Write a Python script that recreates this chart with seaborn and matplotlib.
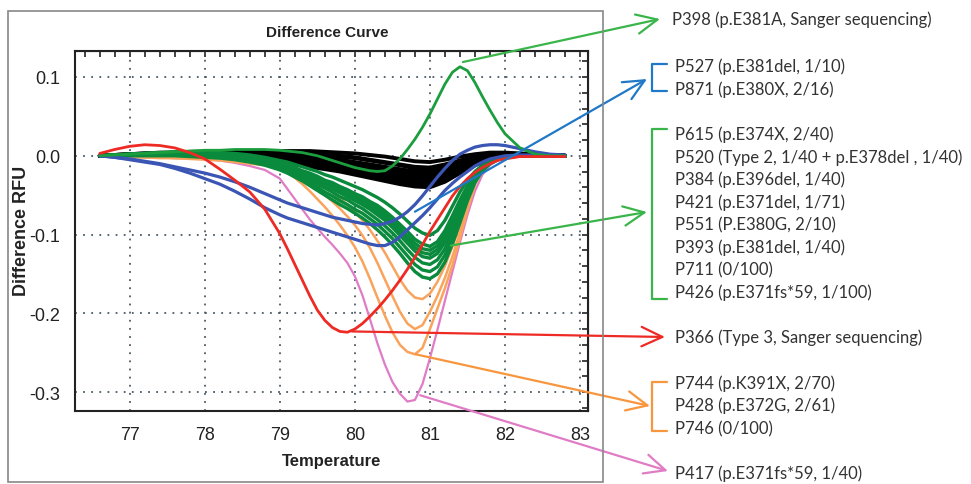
import numpy as np
import pandas as pd
import seaborn as sns
from matplotlib import pyplot as plt
from matplotlib.lines import Line2D
from matplotlib.patches import Rectangle
from matplotlib.ticker import MultipleLocator, NullFormatter, FuncFormatter

# coarse temperature grid (black bundle) and fine grid (the coloured curves)
temps = [76.6, 76.8, 77.0, 77.2, 77.4, 77.6, 77.8, 78.0, 78.2, 78.4, 78.6, 78.8,
         79.0, 79.2, 79.4, 79.6, 79.8, 80.0, 80.2, 80.4, 80.6, 80.8, 81.0, 81.2,
         81.4, 81.6, 81.8, 82.0, 82.2, 82.4, 82.6, 82.8]
temps_fine = [76.6, 76.8, 77.0, 77.2, 77.4, 77.6, 77.8, 78.0, 78.2, 78.4, 78.6, 78.8, 79.0,
              79.1, 79.2, 79.3, 79.4, 79.5, 79.6, 79.7, 79.8, 79.9, 80.0,
              80.1, 80.2, 80.3, 80.4, 80.5, 80.6, 80.7, 80.8, 80.9, 81.0,
              81.1, 81.2, 81.3, 81.4, 81.5, 81.6, 81.7, 81.8, 81.9, 82.0,
              82.2, 82.4, 82.6, 82.8]

black_curves = [
    [0, .001, .002, .003, .004, .004, .005, .005, .006, .006, .006, .006, .006, .006, .006, .005,
     .004, .003, .001, -.001, -.004, -.007, -.008, -.005, -.001, .002, .004, .004, .003, .002, .001, 0],
    [0, .001, .002, .002, .003, .004, .004, .004, .005, .005, .005, .004, .004, .003, .002, .001,
     -.001, -.003, -.006, -.009, -.012, -.016, -.018, -.014, -.008, -.002, .002, .003, .002, .001, 0, 0],
    [0, .001, .002, .003, .003, .004, .004, .005, .005, .005, .005, .005, .004, .004, .003, .002,
     0, -.002, -.005, -.008, -.011, -.014, -.015, -.011, -.006, -.001, .002, .003, .002, .001, .001, 0],
    [0, .001, .001, .002, .003, .003, .004, .004, .004, .004, .004, .003, .002, .001, -.001, -.003,
     -.005, -.008, -.011, -.014, -.017, -.020, -.021, -.016, -.009, -.003, .001, .002, .002, .001, 0, 0],
    [0, .001, .001, .002, .002, .003, .003, .003, .003, .003, .003, .002, .001, -.001, -.003, -.005,
     -.007, -.010, -.013, -.016, -.020, -.022, -.023, -.018, -.011, -.004, 0, .002, .001, .001, 0, 0],
    [0, .001, .001, .002, .002, .003, .003, .003, .003, .003, .002, .001, 0, -.002, -.004, -.006,
     -.009, -.012, -.015, -.018, -.022, -.025, -.026, -.020, -.012, -.005, -.001, .001, .001, .001, 0, 0],
    [0, 0, .001, .001, .002, .002, .002, .002, .002, .001, 0, -.001, -.003, -.005, -.007, -.010,
     -.013, -.016, -.019, -.022, -.026, -.029, -.030, -.024, -.015, -.007, -.002, 0, .001, 0, 0, 0],
    [0, 0, .001, .001, .001, .001, .001, .001, 0, -.001, -.002, -.003, -.005, -.007, -.010, -.013,
     -.016, -.019, -.022, -.026, -.029, -.032, -.033, -.027, -.018, -.009, -.003, -.001, 0, 0, 0, 0],
    [0, 0, 0, 0, 0, 0, 0, -.001, -.001, -.002, -.003, -.005, -.007, -.009, -.012, -.015,
     -.018, -.021, -.025, -.029, -.033, -.036, -.036, -.030, -.020, -.010, -.004, -.001, 0, 0, 0, 0],
    [0, 0, 0, 0, 0, -.001, -.001, -.002, -.002, -.003, -.004, -.006, -.008, -.011, -.014, -.017,
     -.020, -.024, -.028, -.032, -.036, -.039, -.040, -.033, -.022, -.012, -.005, -.001, 0, 0, 0, 0],
]

green_curves = [
    [0, .001, .002, .003, .004, .005, .005, .005, .004, .003, .001, -.002, -.006,
     -.008, -.011, -.014, -.017, -.020, -.024, -.027, -.031, -.035, -.039,
     -.043, -.048, -.053, -.059, -.066, -.074, -.083, -.092, -.098, -.101,
     -.095, -.082, -.064, -.046, -.031, -.020, -.012, -.007, -.004, -.002, 0, 0, 0, 0],
    [0, .001, .002, .003, .004, .004, .004, .004, .003, .002, 0, -.003, -.008,
     -.012, -.015, -.019, -.022, -.026, -.031, -.034, -.039, -.043, -.048,
     -.052, -.058, -.063, -.070, -.078, -.087, -.096, -.106, -.112, -.115,
     -.109, -.095, -.076, -.056, -.038, -.024, -.014, -.008, -.004, -.002, 0, 0, 0, 0],
    [0, .001, .002, .002, .003, .003, .003, .003, .002, .001, -.001, -.004, -.010,
     -.013, -.017, -.020, -.024, -.028, -.033, -.037, -.042, -.046, -.051,
     -.056, -.061, -.067, -.074, -.083, -.092, -.102, -.111, -.118, -.120,
     -.114, -.101, -.081, -.060, -.040, -.025, -.015, -.008, -.004, -.002, 0, 0, 0, 0],
    [0, .001, .001, .002, .002, .002, .002, .002, .001, 0, -.002, -.005, -.011,
     -.014, -.018, -.022, -.026, -.031, -.035, -.040, -.045, -.049, -.054,
     -.059, -.065, -.071, -.078, -.087, -.096, -.106, -.116, -.123, -.125,
     -.119, -.105, -.085, -.063, -.042, -.026, -.015, -.008, -.004, -.002, 0, 0, 0, 0],
    [0, .001, .001, .002, .002, .002, .002, .001, 0, -.001, -.003, -.007, -.013,
     -.015, -.020, -.024, -.028, -.033, -.038, -.042, -.047, -.052, -.057,
     -.062, -.068, -.075, -.082, -.091, -.101, -.111, -.121, -.128, -.130,
     -.124, -.110, -.089, -.067, -.045, -.027, -.016, -.009, -.005, -.002, 0, 0, 0, 0],
    [0, 0, .001, .001, .001, .001, .001, 0, -.001, -.002, -.004, -.008, -.014,
     -.017, -.022, -.026, -.031, -.036, -.041, -.046, -.052, -.056, -.062,
     -.067, -.074, -.081, -.089, -.098, -.108, -.119, -.129, -.136, -.138,
     -.132, -.118, -.096, -.072, -.048, -.029, -.017, -.009, -.005, -.002, 0, 0, 0, 0],
    [0, 0, .001, .001, .001, .001, 0, -.001, -.002, -.003, -.006, -.010, -.016,
     -.020, -.024, -.029, -.035, -.040, -.046, -.051, -.057, -.062, -.068,
     -.073, -.080, -.087, -.096, -.105, -.116, -.127, -.138, -.145, -.147,
     -.141, -.126, -.104, -.079, -.053, -.032, -.018, -.010, -.005, -.002, 0, 0, 0, 0],
    [0, 0, 0, 0, 0, 0, -.001, -.002, -.003, -.005, -.008, -.012, -.018,
     -.022, -.027, -.032, -.038, -.044, -.050, -.056, -.062, -.067, -.073,
     -.079, -.086, -.094, -.103, -.113, -.124, -.136, -.147, -.154, -.156,
     -.150, -.135, -.112, -.085, -.057, -.034, -.019, -.010, -.005, -.002, 0, 0, 0, 0],
]

p398_curve = [0, .001, .002, .003, .004, .005, .006, .007, .007, .008, .008, .008, .007,
              .006, .005, .004, .002, 0, -.003, -.006, -.009, -.012, -.015,
              -.017, -.019, -.020, -.019, -.013, -.004, .008, .021, .036, .053,
              .072, .091, .106, .113, .108, .093, .075, .058, .042, .028,
              .010, .002, 0, 0]

blue_curves = [
    [0, -.002, -.004, -.007, -.010, -.014, -.018, -.022, -.027, -.033, -.040, -.048, -.056,
     -.060, -.063, -.066, -.069, -.072, -.075, -.078, -.080, -.082, -.084,
     -.086, -.087, -.088, -.086, -.083, -.078, -.071, -.062, -.051, -.039,
     -.027, -.016, -.006, .002, .007, .011, .013, .014, .014, .013,
     .009, .005, .002, .001],
    [0, -.002, -.005, -.008, -.011, -.016, -.022, -.029, -.036, -.045, -.055, -.066, -.075,
     -.079, -.082, -.085, -.088, -.091, -.094, -.097, -.100, -.103, -.106,
     -.109, -.112, -.114, -.114, -.110, -.103, -.094, -.085, -.076, -.066,
     -.055, -.044, -.035, -.027, -.020, -.013, -.008, -.004, -.002, 0,
     .001, .001, 0, 0],
]

orange_curves = [
    [0, -.001, -.001, -.001, -.002, -.002, -.002, -.003, -.003, -.004, -.005, -.006, -.008,
     -.011, -.015, -.020, -.026, -.032, -.039, -.046, -.054, -.062, -.071,
     -.082, -.094, -.108, -.123, -.140, -.157, -.171, -.180, -.182, -.175,
     -.160, -.140, -.115, -.088, -.060, -.034, -.017, -.008, -.004, -.002,
     0, 0, 0, 0],
    [0, -.001, -.001, -.002, -.002, -.003, -.003, -.004, -.005, -.006, -.007, -.008, -.010,
     -.015, -.020, -.027, -.034, -.042, -.050, -.058, -.067, -.077, -.088,
     -.101, -.117, -.136, -.157, -.178, -.198, -.213, -.220, -.215, -.198,
     -.178, -.155, -.128, -.097, -.064, -.035, -.017, -.008, -.004, -.002,
     0, 0, 0, 0],
    [0, -.001, -.002, -.002, -.003, -.003, -.004, -.005, -.006, -.008, -.010, -.012, -.016,
     -.021, -.028, -.036, -.045, -.055, -.065, -.076, -.088, -.101, -.116,
     -.134, -.156, -.180, -.203, -.224, -.240, -.249, -.252, -.244, -.220,
     -.194, -.168, -.139, -.105, -.069, -.037, -.018, -.008, -.004, -.002,
     0, 0, 0, 0],
]

pink_curve = [0, -.001, -.001, -.002, -.002, -.003, -.003, -.004, -.006, -.009, -.013, -.018, -.029,
              -.042, -.055, -.068, -.081, -.092, -.103, -.113, -.124, -.136, -.153,
              -.177, -.207, -.238, -.265, -.287, -.302, -.312, -.310, -.290, -.257,
              -.221, -.184, -.147, -.110, -.075, -.045, -.024, -.012, -.006, -.003,
              -.001, 0, 0, 0]

red_curve = [.003, .008, .012, .014, .013, .010, .004, -.004, -.017, -.031, -.046, -.068, -.099,
             -.118, -.138, -.158, -.178, -.196, -.209, -.218, -.223, -.224, -.220,
             -.213, -.204, -.194, -.183, -.171, -.158, -.144, -.129, -.113, -.096,
             -.081, -.066, -.051, -.039, -.029, -.021, -.015, -.010, -.006, -.004,
             -.001, -.001, -.001, -.001]

# right-hand labels
p398_label = 'P398 (p.E381A, Sanger sequencing)'
blue_labels = ['P527 (p.E381del, 1/10)', 'P871 (p.E380X, 2/16)']
green_labels = ['P615 (p.E374X, 2/40)', 'P520 (Type 2, 1/40 + p.E378del , 1/40)',
                'P384 (p.E396del, 1/40)', 'P421 (p.E371del, 1/71)', 'P551 (P.E380G, 2/10)',
                'P393 (p.E381del, 1/40)', 'P711 (0/100)', 'P426 (p.E371fs*59, 1/100)']
red_label = 'P366 (Type 3, Sanger sequencing)'
orange_labels = ['P744 (p.K391X, 2/70)', 'P428 (p.E372G, 2/61)', 'P746 (0/100)']
pink_label = 'P417 (p.E371fs*59, 1/40)'

W, H = 971, 485


def fpx(x, y):
    return x / W, 1 - y / H


def draw_group(ax, xs, curves, color, lw):
    rows = []
    for i, c in enumerate(curves):
        assert len(c) == len(xs), (len(c), len(xs))
        for t, v in zip(xs, c):
            rows.append((i, t, v))
    df = pd.DataFrame(rows, columns=['curve', 'temp', 'rfu'])
    sns.lineplot(data=df, x='temp', y='rfu', units='curve', estimator=None,
                 color=color, lw=lw, ax=ax, legend=False, sort=False)


def arrow(ax, start, tip, color):
    ax.annotate('', xy=fpx(*tip), xycoords='figure fraction', xytext=start, textcoords='data',
                arrowprops=dict(arrowstyle='->,head_length=0.75,head_width=0.35', color=color,
                                lw=1.6, mutation_scale=20, shrinkA=0, shrinkB=0),
                annotation_clip=False, zorder=10)


def bracket(fig, x0, x1, ytop, ybot, color):
    xs = [x1 / W, x0 / W, x0 / W, x1 / W]
    ys = [1 - ytop / H, 1 - ytop / H, 1 - ybot / H, 1 - ybot / H]
    fig.add_artist(Line2D(xs, ys, transform=fig.transFigure, color=color, lw=1.6))


sns.set_style('white')
plt.rcParams['font.family'] = ['Liberation Sans Narrow', 'Liberation Sans', 'DejaVu Sans']
plt.rcParams['axes.unicode_minus'] = False

fig = plt.figure(figsize=(W / 100, H / 100), dpi=100)
ax = fig.add_axes([75 / W, 1 - 412 / H, (587.5 - 75) / W, (412 - 52) / H])

draw_group(ax, temps, black_curves, '#000000', 2.8)
draw_group(ax, temps_fine, [pink_curve], '#e07cc6', 1.6)
draw_group(ax, temps_fine, orange_curves, '#f9a35c', 1.8)
draw_group(ax, temps_fine, green_curves, '#0a8a3c', 2.4)
draw_group(ax, temps_fine, blue_curves, '#3a55b4', 2.3)
draw_group(ax, temps_fine, [p398_curve], '#1c9e3e', 2.0)
draw_group(ax, temps_fine, [red_curve], '#ee2a24', 2.0)

ax.set_xlim(76.27, 83.1)
ax.set_ylim(-0.324, 0.133)
ax.xaxis.set_major_locator(MultipleLocator(1))
ax.xaxis.set_minor_locator(MultipleLocator(0.2))
ax.yaxis.set_major_locator(MultipleLocator(0.1))
ax.yaxis.set_minor_locator(MultipleLocator(0.02))
ax.yaxis.set_major_formatter(FuncFormatter(lambda v, p: f'{v:.1f}'.replace('-0.0', '0.0')))
ax.xaxis.set_major_formatter(FuncFormatter(lambda v, p: f'{v:.0f}'))
ax.set_xlabel('')
ax.set_ylabel('')
ax.grid(True, which='major', ls=(0, (1, 3.5)), lw=1.3, color='#4a5a66')
ax.tick_params(which='major', direction='inout', length=9, width=1.5, color='#222222',
               labelsize=13, pad=6, labelcolor='#222222')
ax.tick_params(which='minor', direction='inout', length=5, width=1.2, color='#222222')
for s in ax.spines.values():
    s.set_color('#222222')
    s.set_linewidth(1.5)

secx = ax.secondary_xaxis('top')
secx.xaxis.set_major_locator(MultipleLocator(1))
secx.xaxis.set_minor_locator(MultipleLocator(0.2))
secx.xaxis.set_major_formatter(NullFormatter())
secx.tick_params(which='both', direction='in', length=4, width=1.2, color='#222222')
secy = ax.secondary_yaxis('right')
secy.yaxis.set_major_locator(MultipleLocator(0.1))
secy.yaxis.set_minor_locator(MultipleLocator(0.02))
secy.yaxis.set_major_formatter(NullFormatter())
secy.tick_params(which='both', direction='in', length=4, width=1.2, color='#222222')

# panel frame and texts
fig.add_artist(Rectangle(fpx(8, 483), (603 - 8) / W, (483 - 12) / H, transform=fig.transFigure,
                         fill=False, ec='#888888', lw=1.2))
fig.text(*fpx(327, 33), 'Difference Curve', ha='center', va='center', fontsize=11,
         fontweight='bold', color='#222222')
fig.text(*fpx(332, 462), 'Temperature', ha='center', va='center', fontsize=12,
         fontweight='bold', color='#222222')
fig.text(*fpx(21, 231), 'Difference RFU', ha='center', va='center', rotation=90,
         fontsize=13, fontweight='bold', color='#222222',
         family=['Liberation Sans', 'DejaVu Sans'])

# arrows from curves to labels
arrow(ax, (81.44, 0.119), (660, 20), '#3ab54a')
arrow(ax, (80.80, -0.071), (647, 80), '#1f78c8')
arrow(ax, (81.28, -0.114), (647, 213), '#3ab54a')
arrow(ax, (79.96, -0.223), (665, 338), '#ee2a24')
arrow(ax, (80.81, -0.252), (650, 407), '#f8963e')
arrow(ax, (80.87, -0.304), (668, 472), '#e07cc6')

bracket(fig, 652, 667, 65, 92, '#1f78c8')
bracket(fig, 652, 667, 130, 300, '#3ab54a')
bracket(fig, 652, 667, 383, 432, '#f8963e')

label_font = dict(ha='left', va='center', fontsize=12, color='#333333', family=['Lato', 'DejaVu Sans'])
fig.text(*fpx(672, 20), p398_label, **label_font)
for s, y in zip(blue_labels, [67, 90]):
    fig.text(*fpx(675, y), s, **label_font)
for i, s in enumerate(green_labels):
    fig.text(*fpx(675, 135 + i * 22.5), s, **label_font)
fig.text(*fpx(675, 338), red_label, **label_font)
for s, y in zip(orange_labels, [384, 406, 429]):
    fig.text(*fpx(675, y), s, **label_font)
fig.text(*fpx(675, 474), pink_label, **label_font)

fig.savefig('out.png', dpi=100)
